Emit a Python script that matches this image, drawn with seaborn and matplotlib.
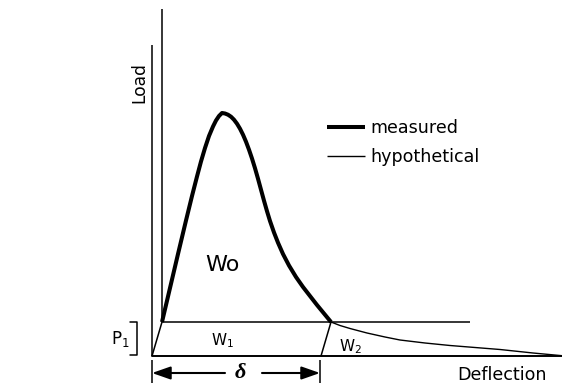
import matplotlib
matplotlib.use("Agg")
import matplotlib.pyplot as plt
import seaborn as sns
import pandas as pd

# ---- data (deflection, load) in drawing units ----
measured_deflection = [10, 18, 26, 34, 40, 45, 49, 53, 57, 61, 64, 67, 70,
                       73, 76, 79, 82, 85, 88, 91, 94, 97, 100, 103, 106, 109, 112, 115,
                       118, 122, 126, 131, 137, 144, 151, 158, 165, 172, 179]
measured_load = [34, 68, 102, 135.5, 160, 179.5, 194.5, 208, 220, 229.5, 235.5, 240, 243,
                 242.5, 241.3, 239.3, 236.3, 232.3, 227.3, 221.3, 214.3, 206.3, 197.5, 187.8,
                 177.3, 166.3, 155.3, 144.8, 135, 123.5, 113.3, 102, 90.5, 79, 69, 60, 51,
                 42.5, 34]

hypo_deflection = [179, 188, 198, 215, 233, 248, 273, 298, 323, 348, 381, 410]
hypo_load = [34, 30.5, 27.5, 23, 19, 16, 13, 10.5, 8.5, 6.5, 3, 0.3]

series_labels = ["measured", "hypothetical"]
series_widths = [2.9, 1.0]

# construction lines of the diagram
load_axis_x, load_axis_y = [0, 0], [0, 311]
shifted_axis_x, shifted_axis_y = [10, 10], [34, 347]
deflection_axis_x, deflection_axis_y = [0, 412], [0, 0]
p1_level_x, p1_level_y = [10, 318], [34, 34]
offset_line_x, offset_line_y = [0, 10], [0, 34]
unload_line_x, unload_line_y = [169, 179], [0, 34]
delta_start, delta_end = 0, 168
delta_level = -17

sns.set_style("white")
plt.rcParams["font.family"] = ["DejaVu Sans"]
plt.rcParams["text.color"] = "black"

fig = plt.figure(figsize=(5.62, 3.83), dpi=100)
ax = fig.add_axes([0, 0, 1, 1])

df = pd.concat([
    pd.DataFrame({"deflection": measured_deflection, "load": measured_load,
                  "curve": series_labels[0]}),
    pd.DataFrame({"deflection": hypo_deflection, "load": hypo_load,
                  "curve": series_labels[1]}),
])

sns.lineplot(data=df, x="deflection", y="load", hue="curve", size="curve",
             sizes=dict(zip(series_labels, series_widths)),
             palette={s: "black" for s in series_labels},
             sort=False, estimator=None, ax=ax, legend=True,
             solid_joinstyle="round", solid_capstyle="butt")

thin = dict(color="black", lw=1.1, solid_capstyle="butt")
ax.plot(load_axis_x, load_axis_y, **thin)
ax.plot(shifted_axis_x, shifted_axis_y, **thin)
ax.plot(deflection_axis_x, deflection_axis_y, color="black", lw=1.4)
ax.plot(p1_level_x, p1_level_y, **thin)
ax.plot(offset_line_x, offset_line_y, **thin)
ax.plot(unload_line_x, unload_line_y, **thin)

# bracket for P1
ax.plot([-22, -15, -15, -22], [34, 34, 1, 1], color="black", lw=1.1)

# delta dimension
ax.plot([delta_start, delta_start], [-4, -27], **thin)
ax.plot([delta_end, delta_end], [-4, -27], **thin)
arrow = dict(arrowstyle="-|>,head_length=0.8,head_width=0.28", lw=1.5, color="black",
             mutation_scale=14, shrinkA=0, shrinkB=0)
ax.annotate("", xy=(delta_start, delta_level), xytext=(73, delta_level), arrowprops=arrow)
ax.annotate("", xy=(delta_end, delta_level), xytext=(110, delta_level), arrowprops=arrow)
ax.text(88, -16.5, "δ", fontsize=16, family="Liberation Serif", style="italic",
        weight="bold", ha="center", va="center")

# labels
ax.text(-13, 273, "Load", rotation=90, fontsize=12.3, ha="center", va="center")
ax.text(350, -24, "Deflection", fontsize=12.6, ha="center", va="baseline")
ax.text(70, 91, "Wo", fontsize=16, ha="center", va="center")
ax.text(70, 15, r"$\mathregular{W_1}$", fontsize=11, ha="center", va="center")
ax.text(198, 9, r"$\mathregular{W_2}$", fontsize=11, ha="center", va="center")
ax.text(-32, 17, r"$\mathregular{P_1}$", fontsize=12, ha="center", va="center")

handles, labels = ax.get_legend_handles_labels()
leg = ax.legend(handles, labels, loc="upper left", bbox_to_anchor=(327 / 562, 1 - 119 / 383),
                frameon=False, fontsize=12.6, handlelength=2.15, handletextpad=0.3,
                labelspacing=0.62, borderpad=0, borderaxespad=0)

ax.set_xlim(-152, 410)
ax.set_ylim(-27, 356)
ax.axis("off")

fig.savefig("out.png", dpi=100)
